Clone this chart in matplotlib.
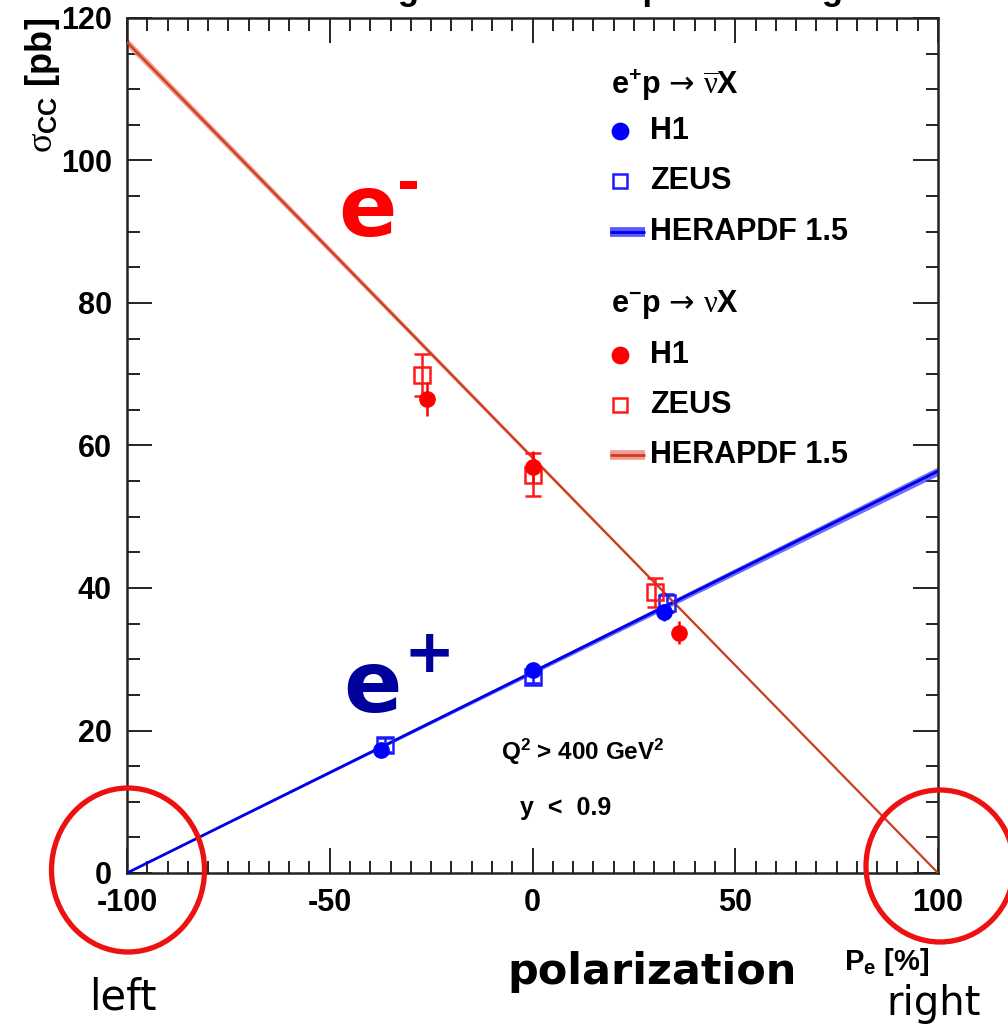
import matplotlib
matplotlib.use('Agg')
import matplotlib.pyplot as plt
from matplotlib.patches import Ellipse
from matplotlib.ticker import MultipleLocator
import numpy as np

# ---------------- data ----------------
pol_eplus_h1 = [-37.4, 0.0, 32.4]
sig_eplus_h1 = [17.3, 28.5, 36.6]
err_eplus_h1 = [0.9, 0.9, 1.2]

pol_eplus_zeus = [-36.4, 0.0, 33.2]
sig_eplus_zeus = [18.0, 27.5, 37.9]
err_eplus_zeus = [1.0, 0.9, 1.3]

pol_eminus_h1 = [-26.0, 0.0, 36.1]
sig_eminus_h1 = [66.5, 57.0, 33.7]
err_eminus_h1 = [2.4, 2.2, 1.6]

pol_eminus_zeus = [-27.2, 0.0, 30.2]
sig_eminus_zeus = [69.9, 55.9, 39.4]
err_eminus_zeus = [2.9, 3.0, 2.0]

pdf_pol = [-100.0, 100.0]
pdf_eplus = [0.0, 56.4]
pdf_eplus_unc = [0.0, 0.6]
pdf_eminus = [116.6, 0.0]
pdf_eminus_unc = [0.6, 0.0]

x_ticks = [-100, -50, 0, 50, 100]
y_ticks = [0, 20, 40, 60, 80, 100, 120]

title_text = "HERA Charged Current e\u00b1p Scattering"

# ---------------- style ----------------
plt.rcParams['font.family'] = ['Liberation Sans', 'DejaVu Sans']
plt.rcParams['mathtext.fontset'] = 'custom'
plt.rcParams['mathtext.rm'] = 'Liberation Sans'
plt.rcParams['mathtext.bf'] = 'Liberation Sans:bold'
plt.rcParams['mathtext.it'] = 'Liberation Serif'
plt.rcParams['mathtext.sf'] = 'DejaVu Sans'
plt.rcParams['mathtext.default'] = 'it'

W, H = 1008, 1026
fig = plt.figure(figsize=(W / 100, H / 100), dpi=100)
ax = fig.add_axes([127 / W, 1 - 873 / H, (938 - 127) / W, (873 - 18) / H])

blue_band = '#3a3aff'
blue_line = '#0000e6'
red_band = '#f28a80'
red_line = '#c8401e'

# HERAPDF bands
pp = np.array(pdf_pol)
ep = np.array(pdf_eplus); epu = np.array(pdf_eplus_unc)
em = np.array(pdf_eminus); emu = np.array(pdf_eminus_unc)
ax.fill_between(pp, ep - epu, ep + epu, color=blue_band, alpha=0.75, lw=0, zorder=2)
ax.plot(pp, ep, color=blue_line, lw=2.0, zorder=3)
ax.fill_between(pp, em - emu, em + emu, color=red_band, alpha=0.85, lw=0, zorder=2)
ax.plot(pp, em, color=red_line, lw=1.6, zorder=3)

# data points
ms_c = 11
ms_s = 11.5
ax.errorbar(pol_eplus_zeus, sig_eplus_zeus, yerr=err_eplus_zeus, fmt='s', ms=ms_s,
            mfc='none', mec='#1a1aff', mew=1.8, ecolor='#1a1aff', elinewidth=1.8,
            capsize=5, capthick=1.5, zorder=5)
ax.errorbar(pol_eplus_h1, sig_eplus_h1, yerr=err_eplus_h1, fmt='o', ms=ms_c,
            mfc='#0000ff', mec='#0000ff', ecolor='#0000ff', elinewidth=1.8,
            capsize=0, zorder=6)
ax.errorbar(pol_eminus_zeus, sig_eminus_zeus, yerr=err_eminus_zeus, fmt='s', ms=ms_s,
            mfc='none', mec='#ff1a1a', mew=1.8, ecolor='#ff1a1a', elinewidth=1.8,
            capsize=6, capthick=1.5, zorder=5)
ax.errorbar(pol_eminus_h1, sig_eminus_h1, yerr=err_eminus_h1, fmt='o', ms=ms_c,
            mfc='#ff0000', mec='#ff0000', ecolor='#ff0000', elinewidth=1.8,
            capsize=0, zorder=6)

# axes
ax.set_xlim(-100, 100)
ax.set_ylim(0, 120)
ax.set_xticks(x_ticks)
ax.set_yticks(y_ticks)
ax.set_xticklabels([str(v) for v in x_ticks])
ax.set_yticklabels([str(v) for v in y_ticks])
ax.xaxis.set_minor_locator(MultipleLocator(5))
ax.yaxis.set_minor_locator(MultipleLocator(5))
ax.tick_params(which='both', direction='in', top=True, right=True, width=1.4, color='#222222')
ax.tick_params(which='major', length=18)
ax.tick_params(which='minor', length=9)
ax.tick_params(axis='both', which='major', labelsize=22, pad=11)
for lab in ax.get_xticklabels() + ax.get_yticklabels():
    lab.set_fontweight('bold')
for s in ax.spines.values():
    s.set_linewidth(1.8)
    s.set_color('#222222')

ax.set_ylabel(r'$\sigma_{\mathbf{CC}}$ [pb]', fontsize=26, fontweight='bold', loc='top')
ax.yaxis.set_label_coords(-0.08, 1.0)

# legend (manual, ROOT style)
def ax_xy(px, py):
    return ((px - 127) / 811, (873 - py) / 855)

lfs = 22
hx, hy = ax_xy(611, 85)
ax.text(hx, hy, r'$\mathbf{e^{+}p}\,\mathsf{\rightarrow}\,\overline{\nu}\mathbf{X}$',
        transform=ax.transAxes, fontsize=lfs, va='center', ha='left')
hx, hy = ax_xy(611, 305)
ax.text(hx, hy, r'$\mathbf{e^{-}p}\,\mathsf{\rightarrow}\,\nu\mathbf{X}$',
        transform=ax.transAxes, fontsize=lfs, va='center', ha='left')

rows = [
    (131, 'o', '#0000ff', True, 'H1'),
    (181, 's', '#1a1aff', False, 'ZEUS'),
    (355, 'o', '#ff0000', True, 'H1'),
    (405, 's', '#ff1a1a', False, 'ZEUS'),
]
for py, mk, col, filled, lab in rows:
    mx, my = ax_xy(620, py)
    ax.plot([mx], [my], marker=mk, ms=ms_c if filled else 10, mfc=col if filled else 'none',
            mec=col, mew=1.8, transform=ax.transAxes, clip_on=False, zorder=7)
    tx, ty = ax_xy(650, py)
    ax.text(tx, ty, lab, transform=ax.transAxes, fontsize=lfs, fontweight='bold',
            va='center', ha='left')

for py, bcol, lcol in [(232, blue_band, blue_line), (455, red_band, red_line)]:
    x0, yy = ax_xy(610, py)
    x1, _ = ax_xy(645, py)
    ax.plot([x0, x1], [yy, yy], color=bcol, lw=7, alpha=0.85, transform=ax.transAxes,
            solid_capstyle='butt', zorder=7)
    ax.plot([x0, x1], [yy, yy], color=lcol, lw=2, transform=ax.transAxes,
            solid_capstyle='butt', zorder=8)
    tx, ty = ax_xy(650, py)
    ax.text(tx, ty, 'HERAPDF 1.5', transform=ax.transAxes, fontsize=lfs, fontweight='bold',
            va='center', ha='left')

# cuts
tx, ty = ax_xy(501, 752)
ax.text(tx, ty, r'$\mathbf{Q^{2}}$ > 400 GeV$\mathbf{^{2}}$', transform=ax.transAxes,
        fontsize=17.5, fontweight='bold', va='center', ha='left')
tx, ty = ax_xy(520, 808)
ax.text(tx, ty, 'y  <  0.9', transform=ax.transAxes, fontsize=18, fontweight='bold',
        va='center', ha='left')

# big e- / e+ labels
def fxy(px, py):
    return (px / W, 1 - py / H)

x, y = fxy(338, 236)
fig.text(x, y, 'e', color='#ff0000', fontsize=62, fontweight='bold', family='DejaVu Sans',
         ha='left', va='baseline')
x, y = fxy(409, 186)
fig.text(x, y, '-', color='#ff0000', fontsize=40, fontweight='bold', family='DejaVu Sans',
         ha='center', va='center')
x, y = fxy(343, 712)
fig.text(x, y, 'e', color='#00009c', fontsize=62, fontweight='bold', family='DejaVu Sans',
         ha='left', va='baseline')
x, y = fxy(429, 656)
fig.text(x, y, '+', color='#00009c', fontsize=44, fontweight='bold', family='DejaVu Sans',
         ha='center', va='center')

# x axis label and annotations
x, y = fxy(930, 962)
fig.text(x, y, r'$\mathbf{P_{e}}$ [%]', fontsize=21, fontweight='bold', ha='right', va='center')
x, y = fxy(652, 972)
fig.text(x, y, 'polarization', fontsize=31, fontweight='bold', family='DejaVu Sans',
         ha='center', va='center')
x, y = fxy(123, 998)
fig.text(x, y, 'left', fontsize=30, family='DejaVu Sans', ha='center', va='center')
x, y = fxy(934, 1004)
fig.text(x, y, 'right', fontsize=29, family='DejaVu Sans', ha='center', va='center')

# title, cut off at the very top as in the reference
x, y = fxy(212, 0)
fig.text(x, y, title_text, fontsize=25, fontweight='bold', ha='left', va='baseline')

# red circles
for cx, cy, w, h in [(128, 870, 153, 164), (940, 866, 148, 152)]:
    e = Ellipse((cx / W, 1 - cy / H), w / W, h / H, transform=fig.transFigure,
                fill=False, ec='#ee1111', lw=3.8, zorder=20)
    fig.patches.append(e)

fig.savefig('out.png', dpi=100)
